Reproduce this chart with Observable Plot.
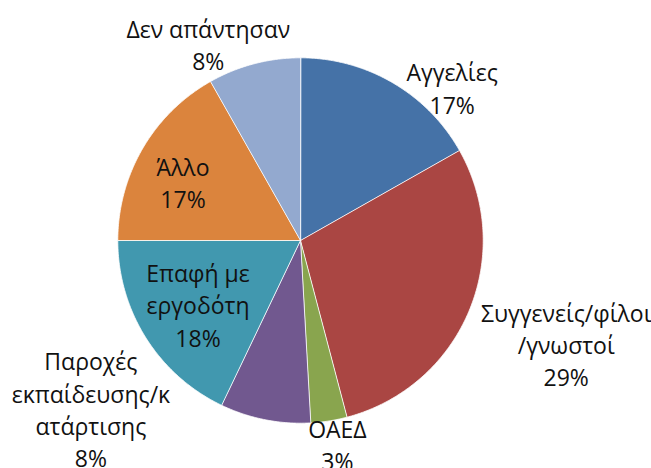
<!DOCTYPE html>
<html>
<head>
<meta charset="utf-8">
<script src="https://cdn.jsdelivr.net/npm/d3@7"></script>
<script src="https://cdn.jsdelivr.net/npm/@observablehq/plot@0.6"></script>
<style>
  html, body { margin: 0; padding: 0; background: #ffffff; }
  #chart { width: 651px; height: 468px; }
</style>
</head>
<body>
<div id="chart"></div>
<script>
// ---- data ----
const categories = ["Αγγελίες", "Συγγενείς/φίλοι/γνωστοί", "ΟΑΕΔ", "Παροχές εκπαίδευσης/κατάρτισης", "Επαφή με εργοδότη", "Άλλο", "Δεν απάντησαν"];
const values = [16.8, 29.1, 3.2, 8.0, 17.9, 16.8, 8.2];
const labelLines = ["Αγγελίες", "Συγγενείς/φίλοι\n/γνωστοί", "ΟΑΕΔ", "Παροχές\nεκπαίδευσης/κ\nατάρτισης", "Επαφή με\nεργοδότη", "Άλλο", "Δεν απάντησαν"];
const colors = ["#4572A7", "#AA4643", "#89A54E", "#71588F", "#4198AF", "#DB843D", "#93A9CF"];

// label placement (polar: degrees clockwise from 12 o'clock, radius in pie radii)
const labelAngle = [44.7, 111.2, 169.7, 231.3, 238.2, 296.7, 334.9];
const labelRadius = [1.18, 1.56, 1.13, 1.47, 0.66, 0.72, 1.19];

// ---- geometry ----
const W = 651, H = 468, cx = 300, cy = 240, R = 182.7;
const arcs = d3.pie().sort(null).value(d => d)(values);
const slicePts = [];
arcs.forEach((a, i) => {
  slicePts.push({cat: categories[i], x: 0, y: 0});
  const n = Math.max(2, Math.ceil((a.endAngle - a.startAngle) / (Math.PI / 360)));
  for (let k = 0; k <= n; k++) {
    const t = a.startAngle + (a.endAngle - a.startAngle) * k / n;
    slicePts.push({cat: categories[i], x: Math.sin(t), y: Math.cos(t)});
  }
});
const labels = categories.map((c, i) => {
  const t = labelAngle[i] * Math.PI / 180;
  return {
    cat: c,
    text: labelLines[i] + "\n" + Math.round(values[i]) + "%",
    x: labelRadius[i] * Math.sin(t),
    y: labelRadius[i] * Math.cos(t)
  };
});

const chart = Plot.plot({
  width: W,
  height: H,
  margin: 0,
  x: {domain: [-1, 1], range: [cx - R, cx + R], axis: null},
  y: {domain: [-1, 1], range: [cy + R, cy - R], axis: null},
  color: {domain: categories, range: colors},
  style: {fontFamily: "'Open Sans', 'Noto Sans', sans-serif", background: "#ffffff"},
  marks: [
    Plot.line(slicePts, {x: "x", y: "y", z: "cat", fill: "cat", stroke: "#ffffff", strokeWidth: 0.8, curve: "linear-closed"}),
    Plot.text(labels, {x: "x", y: "y", text: "text", fontSize: 23, lineHeight: 1.4, fill: "#111111", textAnchor: "middle"})
  ]
});
document.getElementById("chart").appendChild(chart);
</script>
</body>
</html>
